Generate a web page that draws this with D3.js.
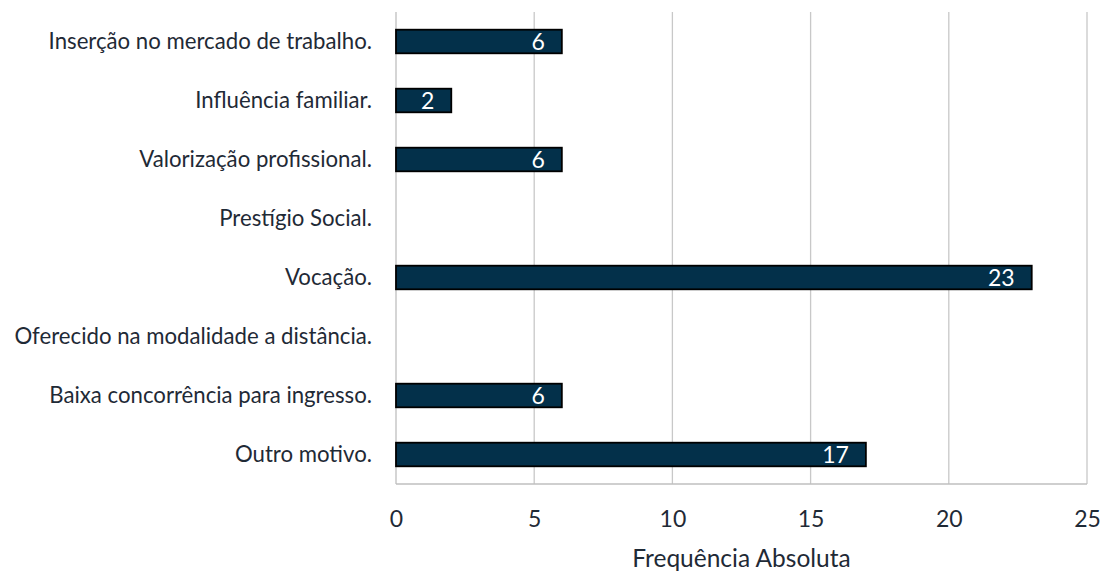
<!DOCTYPE html>
<html><head><meta charset="utf-8">
<script src="https://cdn.jsdelivr.net/npm/d3@7"></script>
<style>body{margin:0;background:#fff}svg{display:block}</style>
</head><body>
<svg id="c" width="1103" height="572"></svg>
<script>
const categories = ["Inserção no mercado de trabalho.","Influência familiar.","Valorização profissional.","Prestígio Social.","Vocação.","Oferecido na modalidade a distância.","Baixa concorrência para ingresso.","Outro motivo."];
const values = [6,2,6,0,23,0,6,17];
const xTicks = [0,5,10,15,20,25];
const xTitle = "Frequência Absoluta";

const svg = d3.select("#c");
const font = "Lato, 'Open Sans', sans-serif";
const textCol = "#1f2a36";
const m = {l:396, r:1087, t:12, b:484};
const x = d3.scaleLinear().domain([0,25]).range([m.l,m.r]);
const y = d3.scaleBand().domain(categories).range([m.t,m.b]).paddingInner(0.6).paddingOuter(0.3);

// gridlines
svg.append("g").selectAll("line").data(xTicks.slice(1)).join("line")
  .attr("x1",d=>x(d)).attr("x2",d=>x(d)).attr("y1",m.t).attr("y2",m.b)
  .attr("stroke","#c8c8c8").attr("stroke-width",1.3);
// axes lines
svg.append("line").attr("x1",m.l).attr("x2",m.r).attr("y1",m.b).attr("y2",m.b).attr("stroke","#bfbfbf").attr("stroke-width",1.3);
svg.append("line").attr("x1",m.l).attr("x2",m.l).attr("y1",m.t).attr("y2",m.b).attr("stroke","#bfbfbf").attr("stroke-width",1.3);

const data = categories.map((c,i)=>({c,v:values[i]})).filter(d=>d.v>0);
// bars
svg.append("g").selectAll("rect").data(data).join("rect")
  .attr("x",x(0)).attr("y",d=>y(d.c)).attr("width",d=>x(d.v)-x(0)).attr("height",y.bandwidth())
  .attr("fill","#03304a").attr("stroke","#000").attr("stroke-width",1.8);
// value labels
svg.append("g").selectAll("text").data(data).join("text")
  .attr("x",d=>x(d.v)-17).attr("y",d=>y(d.c)+y.bandwidth()/2).attr("dy","0.36em")
  .attr("text-anchor","end").attr("fill","#fff").attr("font-family",font).attr("font-size",23)
  .text(d=>d.v);

// category labels
svg.append("g").selectAll("text").data(categories).join("text")
  .attr("x",m.l-24).attr("y",d=>y(d)+y.bandwidth()/2).attr("dy","0.36em")
  .attr("text-anchor","end").attr("fill",textCol).attr("font-family",font).attr("font-size",22.2)
  .text(d=>d);

// x tick labels
const xAxis = d3.axisBottom(x).tickValues(xTicks).tickSize(0).tickPadding(0);
const gx = svg.append("g").attr("transform",`translate(0,527)`).call(xAxis);
gx.select(".domain").remove();
gx.selectAll("text").attr("font-family",font).attr("font-size",23).attr("fill",textCol).attr("y",0).attr("dy",0);

svg.append("text").attr("x",(m.l+m.r)/2).attr("y",567).attr("text-anchor","middle")
  .attr("font-family",font).attr("font-size",24.5).attr("fill",textCol).text(xTitle);
</script>
</body></html>
